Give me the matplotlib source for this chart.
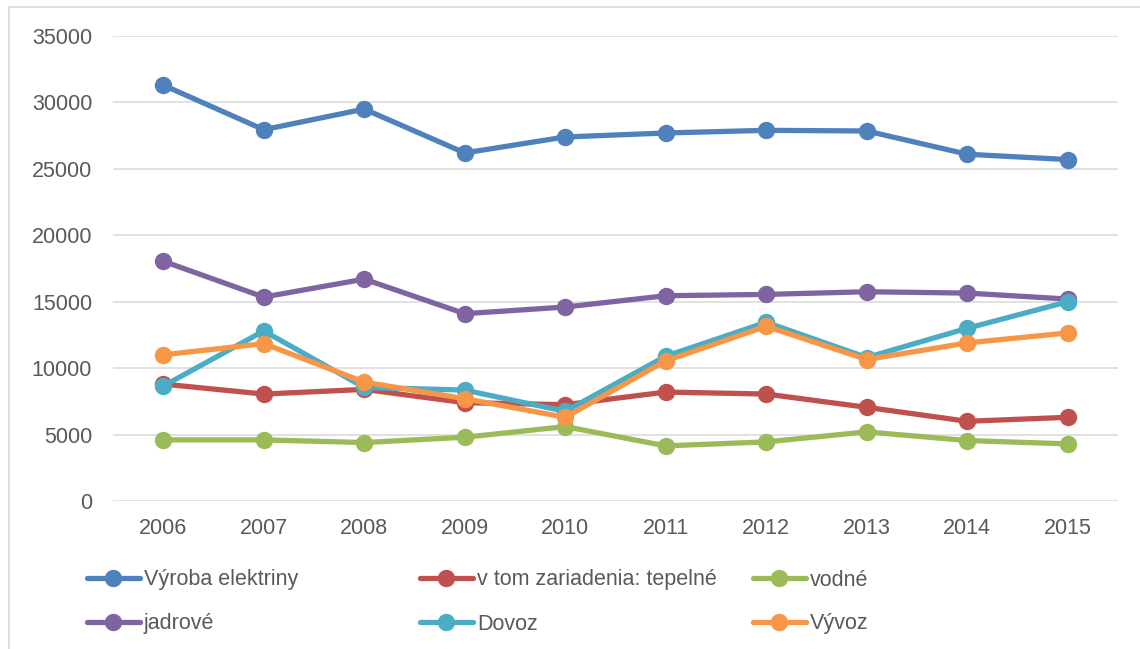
import matplotlib
matplotlib.use("Agg")
import matplotlib.pyplot as plt
from matplotlib.patches import Rectangle

years = ["2006", "2007", "2008", "2009", "2010", "2011", "2012", "2013", "2014", "2015"]
vyroba = [31300, 27950, 29500, 26200, 27400, 27700, 27900, 27850, 26100, 25700]
tepelne = [8800, 8050, 8400, 7400, 7250, 8200, 8050, 7050, 6000, 6300]
vodne = [4600, 4600, 4400, 4800, 5600, 4150, 4450, 5200, 4550, 4300]
jadrove = [18050, 15350, 16700, 14100, 14600, 15450, 15550, 15750, 15650, 15200]
dovoz = [8650, 12800, 8550, 8350, 6750, 10900, 13450, 10800, 13000, 15000]
vyvoz = [11000, 11850, 8950, 7700, 6300, 10550, 13150, 10650, 11900, 12650]

labels = ["Výroba elektriny", "v tom zariadenia: tepelné", "vodné",
          "jadrové", "Dovoz", "Vývoz"]
colors = ["#4F81BD", "#C0504D", "#9BBB59", "#8064A2", "#4BACC6", "#F79646"]
series = [vyroba, tepelne, vodne, jadrove, dovoz, vyvoz]

plt.rcParams['font.family'] = ['Liberation Sans', 'DejaVu Sans']
TXT = "#595959"
FS = 15.5

W, H = 1140, 649
fig = plt.figure(figsize=(W / 100, H / 100), dpi=100)
ax = fig.add_axes([113 / W, 1 - 501 / H, (1118 - 113) / W, (501 - 36) / H])

x = list(range(len(years)))
handles = []
for vals, c, lab in zip(series, colors, labels):
    h, = ax.plot(x, vals, color=c, lw=3.8, marker='o', markersize=11.5,
                 solid_capstyle='round', solid_joinstyle='round', label=lab)
    handles.append(h)

ax.set_xlim(-0.5, len(years) - 0.5)
ax.set_ylim(0, 35000)
ax.set_yticks(range(0, 35001, 5000))
ax.set_xticks(x)
ax.set_xticklabels(years)
ax.tick_params(axis='both', length=0, labelsize=FS, labelcolor=TXT)
ax.tick_params(axis='y', pad=15)
ax.tick_params(axis='x', pad=12)
ax.grid(axis='y', color='#D9D9D9', lw=1.1)
ax.set_axisbelow(True)
for s in ax.spines.values():
    s.set_visible(False)

# outer chart frame
fig.add_artist(Rectangle((8.5 / W, -0.05), 1.2, 1.05 - 6.5 / H, transform=fig.transFigure,
                         fill=False, edgecolor='#D9D9D9', lw=1.2))

# legend: one entry per legend, positioned as in reference
pos = [(87, 580), (420, 580), (753, 580), (87, 624), (420, 624), (753, 624)]
for h, (px, py) in zip(handles, pos):
    fig.legend(handles=[h], labels=[h.get_label()], loc='center left',
               bbox_to_anchor=(px / W, 1 - py / H), frameon=False,
               fontsize=FS, labelcolor=TXT, handlelength=2.45, handletextpad=0.2,
               borderpad=0, borderaxespad=0, numpoints=1)

fig.savefig("out.png", dpi=100)
